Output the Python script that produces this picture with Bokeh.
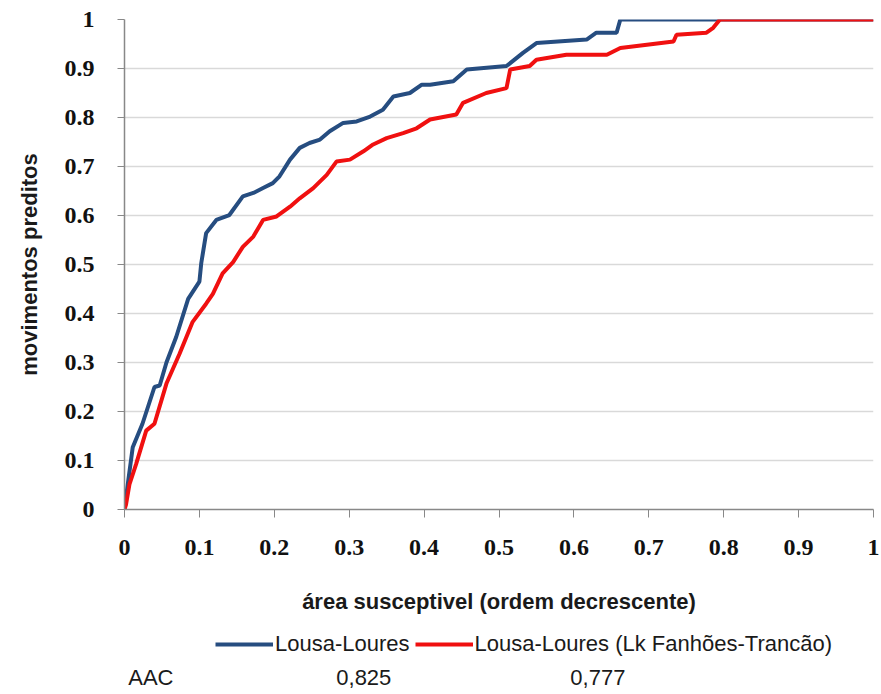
from bokeh.plotting import figure
from bokeh.models import (Range1d, FixedTicker, Label, Legend, LegendItem)
from bokeh.layouts import column
from bokeh.embed import file_html
from bokeh.resources import INLINE

# ---- data ----
blue_x = [0, 0.0036, 0.011, 0.024, 0.040, 0.047, 0.056, 0.069, 0.085, 0.100, 0.1025,
          0.109, 0.1226, 0.140, 0.158, 0.172, 0.185, 0.198, 0.207, 0.221, 0.234, 0.247,
          0.261, 0.274, 0.292, 0.310, 0.328, 0.345, 0.359, 0.381, 0.397, 0.408, 0.439,
          0.457, 0.510, 0.532, 0.550, 0.617, 0.630, 0.657, 0.662, 1.0]
blue_y = [0, 0.043, 0.127, 0.175, 0.25, 0.253, 0.30, 0.352, 0.43, 0.465, 0.503,
          0.564, 0.591, 0.601, 0.639, 0.646, 0.656, 0.666, 0.68, 0.714, 0.738, 0.748,
          0.755, 0.772, 0.789, 0.792, 0.802, 0.816, 0.843, 0.85, 0.867, 0.867, 0.874,
          0.898, 0.905, 0.932, 0.952, 0.959, 0.973, 0.973, 1.0, 1.0]

red_x = [0, 0.002, 0.0067, 0.0156, 0.029, 0.040, 0.056, 0.0735, 0.091, 0.109, 0.118,
         0.131, 0.145, 0.158, 0.172, 0.185, 0.203, 0.221, 0.234, 0.252, 0.270, 0.283,
         0.301, 0.319, 0.332, 0.350, 0.372, 0.390, 0.408, 0.443, 0.452, 0.483, 0.510,
         0.515, 0.541, 0.55, 0.59, 0.644, 0.662, 0.733, 0.737, 0.777, 0.786, 0.795, 1.0]
red_y = [0, 0.01, 0.052, 0.093, 0.161, 0.175, 0.257, 0.318, 0.383, 0.42, 0.44,
         0.482, 0.505, 0.536, 0.557, 0.591, 0.598, 0.618, 0.635, 0.656, 0.683, 0.71,
         0.714, 0.731, 0.745, 0.758, 0.768, 0.778, 0.796, 0.806, 0.83, 0.85, 0.86,
         0.898, 0.905, 0.918, 0.928, 0.928, 0.942, 0.955, 0.969, 0.973, 0.983, 1.0, 1.0]

series_names = ["Lousa-Loures", "Lousa-Loures (Lk Fanhões-Trancão)"]
aac_label = "AAC"
aac_values = ["0,825", "0,777"]

tick_values = [0, 0.1, 0.2, 0.3, 0.4, 0.5, 0.6, 0.7, 0.8, 0.9, 1]
tick_labels = ["0", "0.1", "0.2", "0.3", "0.4", "0.5", "0.6", "0.7", "0.8", "0.9", "1"]

x_title = "área susceptivel (ordem decrescente)"
y_title = "movimentos preditos"

# ---- styling ----
BLUE = "#264D80"
RED = "#F01010"
SANS = "Liberation Sans"
SERIF = "Liberation Serif"
TXT = "#1a1a1a"
W = 879
LEFT = 124
RIGHT = 6

p = figure(width=W, height=620, output_backend="svg", toolbar_location=None,
           x_range=Range1d(0, 1), y_range=Range1d(0, 1),
           min_border_left=LEFT, min_border_right=RIGHT, min_border_top=19,
           min_border_bottom=111)
p.outline_line_color = None

p.line(blue_x, blue_y, line_color=BLUE, line_width=4)
p.line(red_x, red_y, line_color=RED, line_width=4)

overrides = {v: t for v, t in zip(tick_values, tick_labels)}
for ax in (p.xaxis[0], p.yaxis[0]):
    ax.ticker = FixedTicker(ticks=tick_values)
    ax.major_label_overrides = overrides
    ax.minor_tick_line_color = None
    ax.major_tick_in = 0
    ax.major_tick_out = 8
    ax.major_tick_line_color = "#888888"
    ax.axis_line_color = "#888888"
    ax.axis_line_width = 1.5
    ax.major_label_text_font = SERIF
    ax.major_label_text_font_style = "bold"
    ax.major_label_text_font_size = "24px"
    ax.major_label_text_color = "#111111"
    ax.axis_label_text_font = SANS
    ax.axis_label_text_font_style = "bold"
    ax.axis_label_text_font_size = "22px"
    ax.axis_label_text_color = TXT

p.yaxis[0].major_tick_out = 7
p.yaxis[0].major_label_standoff = 23
p.xaxis[0].major_label_standoff = 22

p.yaxis[0].axis_label = y_title
p.yaxis[0].axis_label_standoff = 20
p.xaxis[0].axis_label = x_title
p.xaxis[0].axis_label_standoff = 31

p.xgrid.grid_line_color = None
p.ygrid.grid_line_color = "#d9d9d9"
p.ygrid.grid_line_width = 1.5

# ---- legend + AAC strip below, same horizontal mapping ----
H2 = 74
p2 = figure(width=W, height=H2, output_backend="svg", toolbar_location=None,
            x_range=p.x_range, y_range=Range1d(2, 3),
            min_border_left=LEFT, min_border_right=RIGHT, min_border_top=0,
            min_border_bottom=0)
p2.axis.visible = False
p2.grid.grid_line_color = None
p2.outline_line_color = None

# series also drawn here (outside the visible y range) so the legend can show them
l1 = p2.line(blue_x, blue_y, line_color=BLUE, line_width=4)
l2 = p2.line(red_x, red_y, line_color=RED, line_width=4)

legend = Legend(items=[LegendItem(label=series_names[0], renderers=[l1]),
                       LegendItem(label=series_names[1], renderers=[l2])],
                orientation="horizontal", location=(91, 37), margin=0,
                padding=0, spacing=5, glyph_width=58, glyph_height=20,
                label_standoff=2, label_text_font=SANS, label_text_font_size="22px",
                label_text_color=TXT, border_line_color=None,
                background_fill_alpha=0)
p2.add_layout(legend, "center")

aac_y = 3 - 57 / H2
p2.add_layout(Label(x=0.005, y=aac_y, text=aac_label, text_align="left",
                    text_baseline="middle", text_font=SANS,
                    text_font_size="22px", text_color=TXT))
for xv, t in zip([0.3195, 0.632], aac_values):
    p2.add_layout(Label(x=xv, y=aac_y, text=t, text_align="center",
                        text_baseline="middle", text_font=SANS,
                        text_font_size="22px", text_color=TXT))

layout = column(p, p2, spacing=0)
open("out.html", "w").write(file_html(layout, INLINE))
